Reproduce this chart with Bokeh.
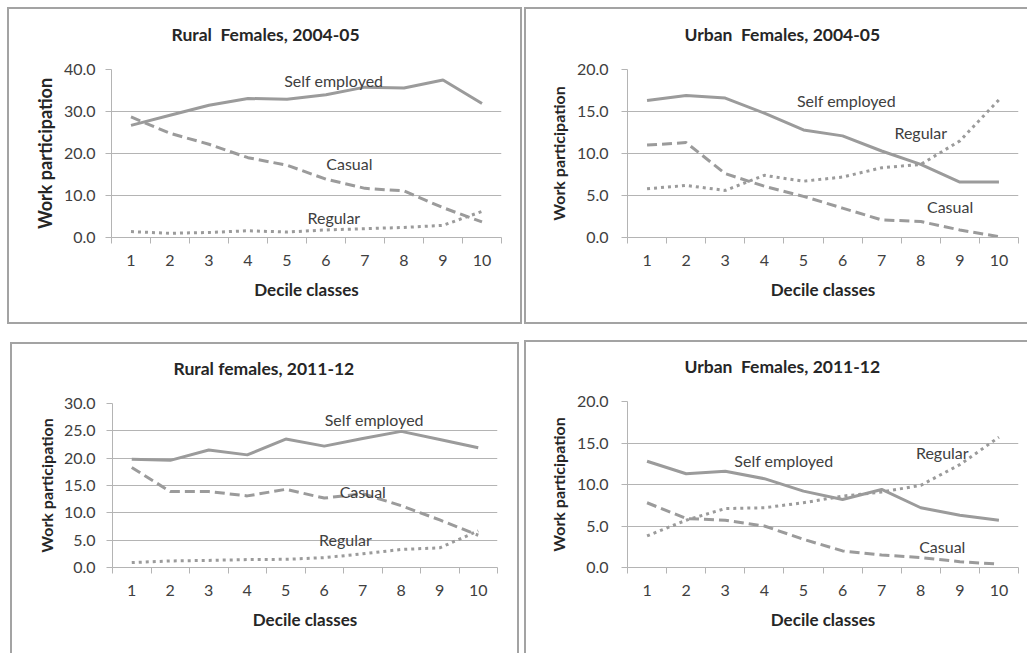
from bokeh.plotting import figure
from bokeh.models import Range1d, FixedTicker, Label, NumeralTickFormatter, Title
from bokeh.layouts import column, row
from bokeh.embed import file_html
from bokeh.resources import INLINE

# Decile classes on the x axis
deciles = [1, 2, 3, 4, 5, 6, 7, 8, 9, 10]
decile_labels = ["1", "2", "3", "4", "5", "6", "7", "8", "9", "10"]

# Work participation by activity status, rural females 2004-05
rural_0405_self = [26.7, 29.1, 31.5, 33.1, 32.9, 34.0, 35.8, 35.6, 37.5, 31.9]
rural_0405_casual = [28.7, 24.8, 22.2, 19.0, 17.2, 13.9, 11.7, 11.1, 7.1, 3.7]
rural_0405_regular = [1.4, 1.0, 1.2, 1.6, 1.3, 1.8, 2.1, 2.4, 2.9, 6.2]

# Urban females 2004-05
urban_0405_self = [16.3, 16.9, 16.6, 14.8, 12.8, 12.1, 10.3, 8.7, 6.6, 6.6]
urban_0405_casual = [11.0, 11.3, 7.6, 6.1, 4.9, 3.5, 2.1, 1.9, 0.9, 0.1]
urban_0405_regular = [5.8, 6.2, 5.6, 7.4, 6.7, 7.2, 8.3, 8.7, 11.5, 16.4]

# Rural females 2011-12
rural_1112_self = [19.8, 19.6, 21.5, 20.6, 23.5, 22.2, 23.6, 24.9, 23.4, 21.9]
rural_1112_casual = [18.3, 13.9, 13.9, 13.1, 14.3, 12.7, 13.5, 11.3, 8.7, 5.9]
rural_1112_regular = [0.9, 1.2, 1.3, 1.45, 1.5, 1.8, 2.5, 3.3, 3.6, 6.7]

# Urban females 2011-12
urban_1112_self = [12.8, 11.3, 11.6, 10.7, 9.2, 8.2, 9.4, 7.2, 6.3, 5.7]
urban_1112_casual = [7.8, 5.9, 5.7, 5.0, 3.4, 2.0, 1.5, 1.2, 0.7, 0.4]
urban_1112_regular = [3.8, 5.7, 7.1, 7.2, 7.8, 8.6, 9.1, 9.9, 12.4, 15.7]

titles = ["Rural\u00a0 Females, 2004-05", "Urban\u00a0 Females, 2004-05",
          "Rural females, 2011-12", "Urban\u00a0 Females, 2011-12"]
y_tops = [40, 20, 30, 20]
y_steps = [10, 5, 5, 5]
series = [
    (rural_0405_self, rural_0405_casual, rural_0405_regular),
    (urban_0405_self, urban_0405_casual, urban_0405_regular),
    (rural_1112_self, rural_1112_casual, rural_1112_regular),
    (urban_1112_self, urban_1112_casual, urban_1112_regular),
]
series_names = ["Self employed", "Casual", "Regular"]

FONT = "Lato"
LINE = "#9b9b9b"
TEXT = "#404040"
DARK = "#262626"
AXIS = "#b4b4b4"
BORDER = "2px solid #a3a3a3"

# Per-panel layout: content size, space around the plotting frame
# (top, right, bottom, left), outer placement, bordered sides, title offset,
# tick/axis label standoffs and in-plot label anchors
# (self employed, casual, regular).
panels = [
    dict(w=511, h=313, mb=(60, 23, 89, 102), margin=(7, 0, 0, 7),
         sides=("top", "left", "right", "bottom"), title_off=60,
         tick_standoff=10, lab_standoff=5, ylab_size="18px",
         notes=[(6.2, 37.4), (6.6, 17.6), (6.2, 4.8)]),
    dict(w=501, h=313, mb=(60, 11, 89, 101), margin=(7, 0, 0, 2),
         sides=("top", "left", "bottom"), title_off=57,
         tick_standoff=13, lab_standoff=6, ylab_size="16px",
         notes=[(6.1, 16.3), (8.75, 3.7), (8.0, 12.5)]),
    dict(w=505, h=309, mb=(58, 24, 88, 100), margin=(18, 0, 0, 10),
         sides=("top", "left", "right"), title_off=61,
         tick_standoff=11, lab_standoff=5, ylab_size="16px",
         notes=[(7.3, 27.1), (7.0, 13.9), (6.55, 5.1)]),
    dict(w=501, h=311, mb=(59, 11, 86, 101), margin=(16, 0, 0, 5),
         sides=("top", "left"), title_off=57,
         tick_standoff=13, lab_standoff=6, ylab_size="16px",
         notes=[(4.5, 12.9), (8.55, 2.5), (8.55, 13.9)]),
]


def make_panel(i):
    cfg = panels[i]
    top, right, bottom, left = cfg["mb"]
    styles = {"border-" + s: BORDER for s in cfg["sides"]}
    styles["box-sizing"] = "content-box"
    p = figure(width=cfg["w"], height=cfg["h"],
               x_range=Range1d(0.5, 10.5), y_range=Range1d(0, y_tops[i]),
               output_backend="svg", toolbar_location=None,
               min_border_top=top, min_border_right=right,
               min_border_bottom=bottom, min_border_left=left,
               margin=cfg["margin"], styles=styles)
    p.outline_line_color = None
    p.background_fill_color = "white"
    p.border_fill_color = "white"

    # blank spacer keeps the chart title clear of the plotting frame
    p.add_layout(Title(text=" ", text_font=FONT, text_font_size="15px",
                       standoff=0), "above")
    p.add_layout(Title(text=titles[i], align="left", offset=cfg["title_off"],
                       text_font=FONT, text_font_style="bold",
                       text_font_size="17.5px", text_color=DARK,
                       standoff=10), "above")

    # y axis: gridlines with short outward ticks, one-decimal labels
    yt = list(range(0, y_tops[i] + 1, y_steps[i]))
    p.yaxis.ticker = FixedTicker(ticks=yt, minor_ticks=[])
    p.yaxis.formatter = NumeralTickFormatter(format="0.0")
    p.yaxis.axis_line_color = AXIS
    p.yaxis.major_tick_line_color = AXIS
    p.yaxis.major_tick_out = 6
    p.yaxis.major_tick_in = 0
    p.yaxis.major_label_standoff = cfg["tick_standoff"]
    p.yaxis.major_label_text_font = FONT
    p.yaxis.major_label_text_font_size = "16px"
    p.yaxis.major_label_text_color = TEXT
    p.yaxis.axis_label = "Work participation"
    p.yaxis.axis_label_text_font = FONT
    p.yaxis.axis_label_text_font_style = "bold"
    p.yaxis.axis_label_text_font_size = cfg["ylab_size"]
    p.yaxis.axis_label_text_color = DARK
    p.yaxis.axis_label_standoff = cfg["lab_standoff"]
    p.ygrid.ticker = FixedTicker(ticks=yt)
    p.ygrid.grid_line_color = AXIS

    # x axis: labels at class centres, tick marks between classes
    p.xaxis.ticker = FixedTicker(ticks=deciles,
                                 minor_ticks=[d - 0.5 for d in deciles] + [10.5])
    p.xaxis.major_label_overrides = dict(zip(deciles, decile_labels))
    p.xaxis.axis_line_color = AXIS
    p.xaxis.major_tick_out = 0
    p.xaxis.major_tick_in = 0
    p.xaxis.minor_tick_line_color = AXIS
    p.xaxis.minor_tick_out = 6
    p.xaxis.minor_tick_in = 0
    p.xaxis.major_label_standoff = 11
    p.xaxis.major_label_text_font = FONT
    p.xaxis.major_label_text_font_size = "16px"
    p.xaxis.major_label_text_color = TEXT
    p.xaxis.axis_label = "Decile classes"
    p.xaxis.axis_label_text_font = FONT
    p.xaxis.axis_label_text_font_style = "bold"
    p.xaxis.axis_label_text_font_size = "17px"
    p.xaxis.axis_label_text_color = DARK
    p.xaxis.axis_label_standoff = 10
    p.xgrid.visible = False

    self_emp, casual, regular = series[i]
    p.line(deciles, self_emp, line_color=LINE, line_width=3)
    p.line(deciles, casual, line_color=LINE, line_width=3, line_dash="10 5")
    p.line(deciles, regular, line_color=LINE, line_width=3, line_dash="3 4")

    for name, (nx, ny) in zip(series_names, cfg["notes"]):
        p.add_layout(Label(x=nx, y=ny, text=name, text_align="center",
                           text_baseline="middle", text_font=FONT,
                           text_font_size="16px", text_color=TEXT))
    return p


figs = [make_panel(i) for i in range(4)]
layout = column(row(figs[0], figs[1], spacing=0),
                row(figs[2], figs[3], spacing=0), spacing=0)

open("out.html", "w").write(file_html(layout, INLINE))
